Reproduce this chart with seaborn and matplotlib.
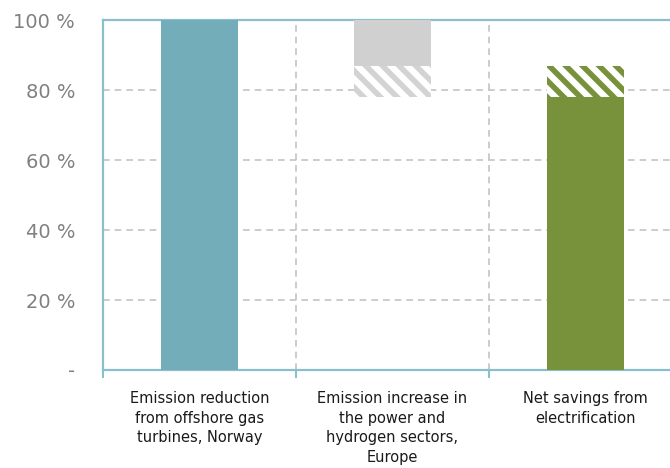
import matplotlib
matplotlib.use("Agg")
import matplotlib.pyplot as plt
import seaborn as sns
from matplotlib.ticker import FixedLocator

sns.set_theme(style="white")
plt.rcParams["font.family"] = ["DejaVu Sans"]
plt.rcParams["hatch.linewidth"] = 4.0

# Waterfall segments (percent of offshore emission reduction)
categories = [
    "Emission reduction\nfrom offshore gas\nturbines, Norway",
    "Emission increase in\nthe power and\nhydrogen sectors,\nEurope",
    "Net savings from\nelectrification",
]
solid_low = [0, 87, 0]
solid_high = [100, 100, 78]
solid_colors = ["#72adb9", "#d0d0d0", "#77923a"]

range_cats = [categories[1], categories[2]]
range_low = [78, 78]
range_high = [87, 87]
range_colors = ["#d3d3d3", "#77923a"]

y_ticks = [0, 20, 40, 60, 80, 100]
y_labels = ["-", "20 %", "40 %", "60 %", "80 %", "100 %"]

spine_col = "#8cbfcc"
grid_col = "#c4c4c4"

fig = plt.figure(figsize=(6.7, 4.68), dpi=100)
ax = fig.add_axes([103 / 670, 1 - 370 / 468, 579 / 670, 350 / 468])


def draw_layer(cats, lows, highs, colors, hatch=None):
    start = len(ax.patches)
    sns.barplot(
        x=cats, y=[h - l for l, h in zip(lows, highs)], hue=cats,
        order=categories, hue_order=cats,
        palette=colors if hatch is None else ["white"] * len(cats),
        width=0.4, saturation=1, legend=False, ax=ax, linewidth=0, zorder=3,
    )
    new = ax.patches[start:]
    for p, low, col in zip(new, lows, colors):
        p.set_y(low)
        if hatch:
            p.set_hatch(hatch)
            p.set_edgecolor(col)
            p.set_linewidth(0)


draw_layer(categories, solid_low, solid_high, solid_colors)
draw_layer(range_cats, range_low, range_high, range_colors, hatch="\\\\")

ax.set_xlim(-0.5, 2.5)
ax.set_ylim(0, 100)
ax.set_xlabel("")
ax.set_ylabel("")

ax.set_yticks(y_ticks)
ax.set_yticklabels(y_labels)
ax.tick_params(axis="y", length=0, pad=20, labelsize=14, labelcolor="#808080")

ax.set_xticks(range(len(categories)))
ax.set_xticklabels(categories, fontsize=10.5, color="#1a1a1a", linespacing=1.4, va="top")
ax.xaxis.set_minor_locator(FixedLocator([-0.5, 0.5, 1.5, 2.5]))
ax.tick_params(axis="x", which="major", length=0, pad=15)
ax.tick_params(axis="x", which="minor", length=6, width=1.5, color=spine_col, direction="out", bottom=True)

# Dashed gridlines
for y in y_ticks[1:-1]:
    ax.axhline(y, color=grid_col, lw=1.2, ls=(0, (4, 3)), zorder=1)
for x in [0.5, 1.5]:
    ax.axvline(x, color=grid_col, lw=1.2, ls=(0, (4, 3)), zorder=1)

for side in ["left", "top", "bottom"]:
    ax.spines[side].set_visible(True)
    ax.spines[side].set_color(spine_col)
    ax.spines[side].set_linewidth(1.6)
ax.spines["right"].set_visible(False)

fig.savefig("out.png", dpi=100)
